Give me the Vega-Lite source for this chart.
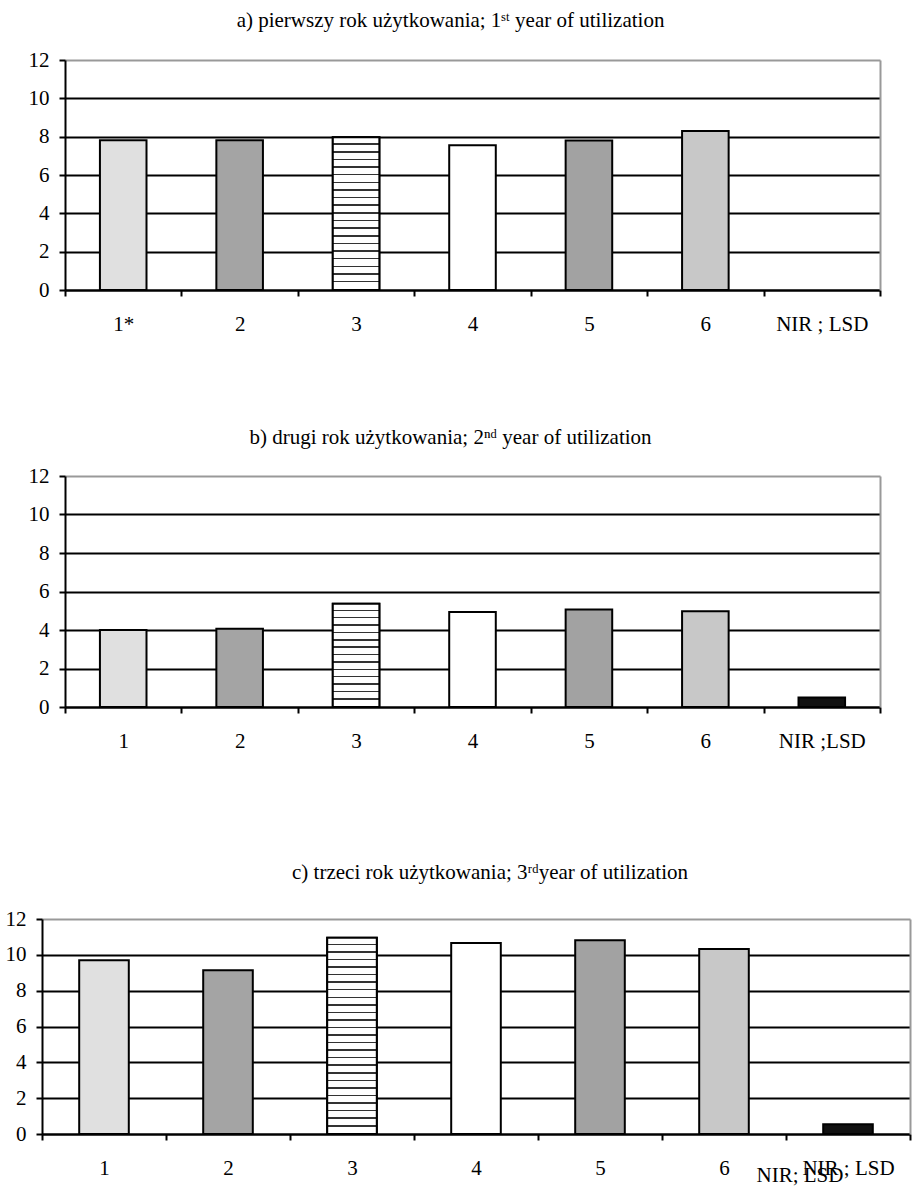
{
  "$schema": "https://vega.github.io/schema/vega-lite/v6.json",
  "background": "white",
  "padding": {"left": 5, "top": 10, "right": 2, "bottom": 5},
  "config": {
    "font": "Liberation Serif",
    "view": {"stroke": null},
    "title": {"font": "Liberation Serif", "fontSize": 21, "fontWeight": "normal", "color": "black", "offset": 21},
    "axis": {"labelFont": "Liberation Serif", "labelFontSize": 21, "labelColor": "black", "domainColor": "black", "domainWidth": 2, "tickColor": "black", "tickWidth": 2, "tickSize": 6, "title": null},
    "axisX": {"grid": false, "tickBand": "extent", "labelAngle": 0, "labelPadding": 17},
    "axisY": {"labelPadding": 10}
  },
  "spacing": 111,
  "resolve": {"scale": {"fill": "independent"}},
  "vconcat": [
    {
      "spacing": -15,
      "resolve": {"scale": {"fill": "independent"}},
      "hconcat": [
        {
          "width": 1,
          "height": 1,
          "data": {"values": []},
          "mark": "point",
          "encoding": {}
        },
        {
          "spacing": 93,
          "resolve": {"scale": {"fill": "independent"}},
          "vconcat": [
            {
              "title": {"text": "a) pierwszy rok użytkowania; 1ˢᵗ year of utilization", "offset": 18, "dx": -22},
              "width": 815,
              "height": 230,
              "data": {"values": [
                {"k": "1*", "v": 7.81},
                {"k": "2", "v": 7.81},
                {"k": "3", "v": 7.97},
                {"k": "4", "v": 7.55},
                {"k": "5", "v": 7.8},
                {"k": "6", "v": 8.3}
              ]},
              "layer": [
                {
                  "mark": {"type": "bar", "stroke": "black", "strokeWidth": 2, "width": {"band": 0.4}},
                  "encoding": {
                    "x": {"field": "k", "type": "nominal", "sort": null, "scale": {"domain": ["1*", "2", "3", "4", "5", "6", "NIR ; LSD"], "paddingInner": 0, "paddingOuter": 0}},
                    "y": {"field": "v", "type": "quantitative", "scale": {"domain": [0, 12]}, "axis": {"values": [0, 2, 4, 6, 8, 10, 12], "grid": true, "gridWidth": 2, "gridColor": {"condition": {"test": "datum.value === 12", "value": "#999999"}, "value": "black"}}},
                    "fill": {"field": "k", "type": "nominal", "legend": null, "scale": {"domain": ["1*", "2", "3", "4", "5", "6", "NIR ; LSD"], "range": ["#e0e0e0", "#a4a4a4", "#b4b4b4", "#ffffff", "#a2a2a2", "#c8c8c8", "#111111"]}}
                  }
                },
                {
                  "transform": [{"filter": "datum.k === '3'"}],
                  "mark": {"type": "bar", "stroke": "black", "strokeWidth": 2, "width": {"band": 0.4},
                    "fill": {"gradient": "linear", "x1": 0, "y1": 0, "x2": 0, "y2": 1, "stops": [
                      {"offset": 0, "color": "white"},
                      {"offset": 0.04, "color": "white"}, {"offset": 0.04, "color": "#333"}, {"offset": 0.05, "color": "#333"}, {"offset": 0.05, "color": "white"},
                      {"offset": 0.09, "color": "white"}, {"offset": 0.09, "color": "#333"}, {"offset": 0.10, "color": "#333"}, {"offset": 0.10, "color": "white"},
                      {"offset": 0.14, "color": "white"}, {"offset": 0.14, "color": "#333"}, {"offset": 0.15, "color": "#333"}, {"offset": 0.15, "color": "white"},
                      {"offset": 0.19, "color": "white"}, {"offset": 0.19, "color": "#333"}, {"offset": 0.20, "color": "#333"}, {"offset": 0.20, "color": "white"},
                      {"offset": 0.24, "color": "white"}, {"offset": 0.24, "color": "#333"}, {"offset": 0.25, "color": "#333"}, {"offset": 0.25, "color": "white"},
                      {"offset": 0.29, "color": "white"}, {"offset": 0.29, "color": "#333"}, {"offset": 0.30, "color": "#333"}, {"offset": 0.30, "color": "white"},
                      {"offset": 0.34, "color": "white"}, {"offset": 0.34, "color": "#333"}, {"offset": 0.35, "color": "#333"}, {"offset": 0.35, "color": "white"},
                      {"offset": 0.39, "color": "white"}, {"offset": 0.39, "color": "#333"}, {"offset": 0.40, "color": "#333"}, {"offset": 0.40, "color": "white"},
                      {"offset": 0.44, "color": "white"}, {"offset": 0.44, "color": "#333"}, {"offset": 0.45, "color": "#333"}, {"offset": 0.45, "color": "white"},
                      {"offset": 0.49, "color": "white"}, {"offset": 0.49, "color": "#333"}, {"offset": 0.50, "color": "#333"}, {"offset": 0.50, "color": "white"},
                      {"offset": 0.54, "color": "white"}, {"offset": 0.54, "color": "#333"}, {"offset": 0.55, "color": "#333"}, {"offset": 0.55, "color": "white"},
                      {"offset": 0.59, "color": "white"}, {"offset": 0.59, "color": "#333"}, {"offset": 0.60, "color": "#333"}, {"offset": 0.60, "color": "white"},
                      {"offset": 0.64, "color": "white"}, {"offset": 0.64, "color": "#333"}, {"offset": 0.65, "color": "#333"}, {"offset": 0.65, "color": "white"},
                      {"offset": 0.69, "color": "white"}, {"offset": 0.69, "color": "#333"}, {"offset": 0.70, "color": "#333"}, {"offset": 0.70, "color": "white"},
                      {"offset": 0.74, "color": "white"}, {"offset": 0.74, "color": "#333"}, {"offset": 0.75, "color": "#333"}, {"offset": 0.75, "color": "white"},
                      {"offset": 0.79, "color": "white"}, {"offset": 0.79, "color": "#333"}, {"offset": 0.80, "color": "#333"}, {"offset": 0.80, "color": "white"},
                      {"offset": 0.84, "color": "white"}, {"offset": 0.84, "color": "#333"}, {"offset": 0.85, "color": "#333"}, {"offset": 0.85, "color": "white"},
                      {"offset": 0.89, "color": "white"}, {"offset": 0.89, "color": "#333"}, {"offset": 0.90, "color": "#333"}, {"offset": 0.90, "color": "white"},
                      {"offset": 0.94, "color": "white"}, {"offset": 0.94, "color": "#333"}, {"offset": 0.95, "color": "#333"}, {"offset": 0.95, "color": "white"},
                      {"offset": 1, "color": "white"}
                    ]}},
                  "encoding": {
                    "x": {"field": "k", "type": "nominal", "sort": null},
                    "y": {"field": "v", "type": "quantitative", "axis": null}
                  }
                },
                {
                  "mark": {"type": "bar", "opacity": 0},
                  "encoding": {
                    "x": {"field": "k", "type": "nominal", "sort": null},
                    "y": {"field": "v", "type": "quantitative", "axis": {"orient": "right", "labels": false, "ticks": false, "grid": false, "domainColor": "#999999"}}
                  }
                }
              ],
              "resolve": {"axis": {"y": "independent"}}
            },
            {
              "title": {"text": "b) drugi rok użytkowania; 2ⁿᵈ year of utilization", "offset": 17, "dx": -22},
              "width": 815,
              "height": 231,
              "data": {"values": [
                {"k": "1", "v": 4.0},
                {"k": "2", "v": 4.07},
                {"k": "3", "v": 5.37},
                {"k": "4", "v": 4.94},
                {"k": "5", "v": 5.06},
                {"k": "6", "v": 4.97},
                {"k": "NIR ;LSD", "v": 0.49}
              ]},
              "layer": [
                {
                  "mark": {"type": "bar", "stroke": "black", "strokeWidth": 2, "width": {"band": 0.4}},
                  "encoding": {
                    "x": {"field": "k", "type": "nominal", "sort": null, "scale": {"domain": ["1", "2", "3", "4", "5", "6", "NIR ;LSD"], "paddingInner": 0, "paddingOuter": 0}},
                    "y": {"field": "v", "type": "quantitative", "scale": {"domain": [0, 12]}, "axis": {"values": [0, 2, 4, 6, 8, 10, 12], "grid": true, "gridWidth": 2, "gridColor": {"condition": {"test": "datum.value === 12", "value": "#999999"}, "value": "black"}}},
                    "fill": {"field": "k", "type": "nominal", "legend": null, "scale": {"domain": ["1", "2", "3", "4", "5", "6", "NIR ;LSD"], "range": ["#e0e0e0", "#a4a4a4", "#b4b4b4", "#ffffff", "#a2a2a2", "#c8c8c8", "#111111"]}}
                  }
                },
                {
                  "transform": [{"filter": "datum.k === '3'"}],
                  "mark": {"type": "bar", "stroke": "black", "strokeWidth": 2, "width": {"band": 0.4},
                    "fill": {"gradient": "linear", "x1": 0, "y1": 0, "x2": 0, "y2": 1, "stops": [
                      {"offset": 0, "color": "white"},
                      {"offset": 0.057, "color": "white"}, {"offset": 0.057, "color": "#333"}, {"offset": 0.071, "color": "#333"}, {"offset": 0.071, "color": "white"},
                      {"offset": 0.129, "color": "white"}, {"offset": 0.129, "color": "#333"}, {"offset": 0.143, "color": "#333"}, {"offset": 0.143, "color": "white"},
                      {"offset": 0.2, "color": "white"}, {"offset": 0.2, "color": "#333"}, {"offset": 0.214, "color": "#333"}, {"offset": 0.214, "color": "white"},
                      {"offset": 0.271, "color": "white"}, {"offset": 0.271, "color": "#333"}, {"offset": 0.286, "color": "#333"}, {"offset": 0.286, "color": "white"},
                      {"offset": 0.343, "color": "white"}, {"offset": 0.343, "color": "#333"}, {"offset": 0.357, "color": "#333"}, {"offset": 0.357, "color": "white"},
                      {"offset": 0.414, "color": "white"}, {"offset": 0.414, "color": "#333"}, {"offset": 0.429, "color": "#333"}, {"offset": 0.429, "color": "white"},
                      {"offset": 0.486, "color": "white"}, {"offset": 0.486, "color": "#333"}, {"offset": 0.5, "color": "#333"}, {"offset": 0.5, "color": "white"},
                      {"offset": 0.557, "color": "white"}, {"offset": 0.557, "color": "#333"}, {"offset": 0.571, "color": "#333"}, {"offset": 0.571, "color": "white"},
                      {"offset": 0.629, "color": "white"}, {"offset": 0.629, "color": "#333"}, {"offset": 0.643, "color": "#333"}, {"offset": 0.643, "color": "white"},
                      {"offset": 0.7, "color": "white"}, {"offset": 0.7, "color": "#333"}, {"offset": 0.714, "color": "#333"}, {"offset": 0.714, "color": "white"},
                      {"offset": 0.771, "color": "white"}, {"offset": 0.771, "color": "#333"}, {"offset": 0.786, "color": "#333"}, {"offset": 0.786, "color": "white"},
                      {"offset": 0.843, "color": "white"}, {"offset": 0.843, "color": "#333"}, {"offset": 0.857, "color": "#333"}, {"offset": 0.857, "color": "white"},
                      {"offset": 0.914, "color": "white"}, {"offset": 0.914, "color": "#333"}, {"offset": 0.929, "color": "#333"}, {"offset": 0.929, "color": "white"},
                      {"offset": 1, "color": "white"}
                    ]}},
                  "encoding": {
                    "x": {"field": "k", "type": "nominal", "sort": null},
                    "y": {"field": "v", "type": "quantitative", "axis": null}
                  }
                },
                {
                  "mark": {"type": "bar", "opacity": 0},
                  "encoding": {
                    "x": {"field": "k", "type": "nominal", "sort": null},
                    "y": {"field": "v", "type": "quantitative", "axis": {"orient": "right", "labels": false, "ticks": false, "grid": false, "domainColor": "#999999"}}
                  }
                }
              ],
              "resolve": {"axis": {"y": "independent"}}
            }
          ]
        }
      ]
    },
    {
      "title": {"text": "c) trzeci rok użytkowania; 3ʳᵈyear of utilization", "offset": 25, "dx": 14},
      "width": 868,
      "height": 215,
      "data": {"values": [
        {"k": "1", "v": 9.7},
        {"k": "2", "v": 9.14},
        {"k": "3", "v": 10.96},
        {"k": "4", "v": 10.66},
        {"k": "5", "v": 10.81},
        {"k": "6", "v": 10.32},
        {"k": "NIR ; LSD", "v": 0.55}
      ]},
      "layer": [
        {
          "mark": {"type": "bar", "stroke": "black", "strokeWidth": 2, "width": {"band": 0.4}},
          "encoding": {
            "x": {"field": "k", "type": "nominal", "sort": null, "scale": {"domain": ["1", "2", "3", "4", "5", "6", "NIR ; LSD"], "paddingInner": 0, "paddingOuter": 0}},
            "y": {"field": "v", "type": "quantitative", "scale": {"domain": [0, 12]}, "axis": {"values": [0, 2, 4, 6, 8, 10, 12], "grid": true, "gridWidth": 2, "gridColor": {"condition": {"test": "datum.value === 12", "value": "#999999"}, "value": "black"}}},
            "fill": {"field": "k", "type": "nominal", "legend": null, "scale": {"domain": ["1", "2", "3", "4", "5", "6", "NIR ; LSD"], "range": ["#e0e0e0", "#a4a4a4", "#b4b4b4", "#ffffff", "#a2a2a2", "#c8c8c8", "#111111"]}}
          }
        },
        {
          "transform": [{"filter": "datum.k === '3'"}],
          "mark": {"type": "bar", "stroke": "black", "strokeWidth": 2, "width": {"band": 0.4},
            "fill": {"gradient": "linear", "x1": 0, "y1": 0, "x2": 0, "y2": 1, "stops": [
              {"offset": 0, "color": "white"},
              {"offset": 0.031, "color": "white"}, {"offset": 0.031, "color": "#333"}, {"offset": 0.038, "color": "#333"}, {"offset": 0.038, "color": "white"},
              {"offset": 0.069, "color": "white"}, {"offset": 0.069, "color": "#333"}, {"offset": 0.077, "color": "#333"}, {"offset": 0.077, "color": "white"},
              {"offset": 0.108, "color": "white"}, {"offset": 0.108, "color": "#333"}, {"offset": 0.115, "color": "#333"}, {"offset": 0.115, "color": "white"},
              {"offset": 0.146, "color": "white"}, {"offset": 0.146, "color": "#333"}, {"offset": 0.154, "color": "#333"}, {"offset": 0.154, "color": "white"},
              {"offset": 0.185, "color": "white"}, {"offset": 0.185, "color": "#333"}, {"offset": 0.192, "color": "#333"}, {"offset": 0.192, "color": "white"},
              {"offset": 0.223, "color": "white"}, {"offset": 0.223, "color": "#333"}, {"offset": 0.231, "color": "#333"}, {"offset": 0.231, "color": "white"},
              {"offset": 0.262, "color": "white"}, {"offset": 0.262, "color": "#333"}, {"offset": 0.269, "color": "#333"}, {"offset": 0.269, "color": "white"},
              {"offset": 0.3, "color": "white"}, {"offset": 0.3, "color": "#333"}, {"offset": 0.308, "color": "#333"}, {"offset": 0.308, "color": "white"},
              {"offset": 0.338, "color": "white"}, {"offset": 0.338, "color": "#333"}, {"offset": 0.346, "color": "#333"}, {"offset": 0.346, "color": "white"},
              {"offset": 0.377, "color": "white"}, {"offset": 0.377, "color": "#333"}, {"offset": 0.385, "color": "#333"}, {"offset": 0.385, "color": "white"},
              {"offset": 0.415, "color": "white"}, {"offset": 0.415, "color": "#333"}, {"offset": 0.423, "color": "#333"}, {"offset": 0.423, "color": "white"},
              {"offset": 0.454, "color": "white"}, {"offset": 0.454, "color": "#333"}, {"offset": 0.462, "color": "#333"}, {"offset": 0.462, "color": "white"},
              {"offset": 0.492, "color": "white"}, {"offset": 0.492, "color": "#333"}, {"offset": 0.5, "color": "#333"}, {"offset": 0.5, "color": "white"},
              {"offset": 0.531, "color": "white"}, {"offset": 0.531, "color": "#333"}, {"offset": 0.538, "color": "#333"}, {"offset": 0.538, "color": "white"},
              {"offset": 0.569, "color": "white"}, {"offset": 0.569, "color": "#333"}, {"offset": 0.577, "color": "#333"}, {"offset": 0.577, "color": "white"},
              {"offset": 0.608, "color": "white"}, {"offset": 0.608, "color": "#333"}, {"offset": 0.615, "color": "#333"}, {"offset": 0.615, "color": "white"},
              {"offset": 0.646, "color": "white"}, {"offset": 0.646, "color": "#333"}, {"offset": 0.654, "color": "#333"}, {"offset": 0.654, "color": "white"},
              {"offset": 0.685, "color": "white"}, {"offset": 0.685, "color": "#333"}, {"offset": 0.692, "color": "#333"}, {"offset": 0.692, "color": "white"},
              {"offset": 0.723, "color": "white"}, {"offset": 0.723, "color": "#333"}, {"offset": 0.731, "color": "#333"}, {"offset": 0.731, "color": "white"},
              {"offset": 0.762, "color": "white"}, {"offset": 0.762, "color": "#333"}, {"offset": 0.769, "color": "#333"}, {"offset": 0.769, "color": "white"},
              {"offset": 0.8, "color": "white"}, {"offset": 0.8, "color": "#333"}, {"offset": 0.808, "color": "#333"}, {"offset": 0.808, "color": "white"},
              {"offset": 0.838, "color": "white"}, {"offset": 0.838, "color": "#333"}, {"offset": 0.846, "color": "#333"}, {"offset": 0.846, "color": "white"},
              {"offset": 0.877, "color": "white"}, {"offset": 0.877, "color": "#333"}, {"offset": 0.885, "color": "#333"}, {"offset": 0.885, "color": "white"},
              {"offset": 0.915, "color": "white"}, {"offset": 0.915, "color": "#333"}, {"offset": 0.923, "color": "#333"}, {"offset": 0.923, "color": "white"},
              {"offset": 0.954, "color": "white"}, {"offset": 0.954, "color": "#333"}, {"offset": 0.962, "color": "#333"}, {"offset": 0.962, "color": "white"},
              {"offset": 1, "color": "white"}
            ]}},
          "encoding": {
            "x": {"field": "k", "type": "nominal", "sort": null},
            "y": {"field": "v", "type": "quantitative", "axis": null}
          }
        },
        {
          "mark": {"type": "bar", "opacity": 0},
          "encoding": {
            "x": {"field": "k", "type": "nominal", "sort": null},
            "y": {"field": "v", "type": "quantitative", "axis": {"orient": "right", "labels": false, "ticks": false, "grid": false, "domainColor": "#999999"}}
          }
        },
        {
          "data": {"values": [{"k": "NIR ; LSD", "t": "NIR; LSD"}]},
          "mark": {"type": "text", "font": "Liberation Serif", "fontSize": 21, "dx": -48, "dy": 42, "baseline": "middle", "color": "black"},
          "encoding": {
            "x": {"field": "k", "type": "nominal"},
            "y": {"datum": 0, "type": "quantitative", "axis": null},
            "text": {"field": "t"}
          }
        }
      ],
      "resolve": {"axis": {"y": "independent"}}
    }
  ]
}
